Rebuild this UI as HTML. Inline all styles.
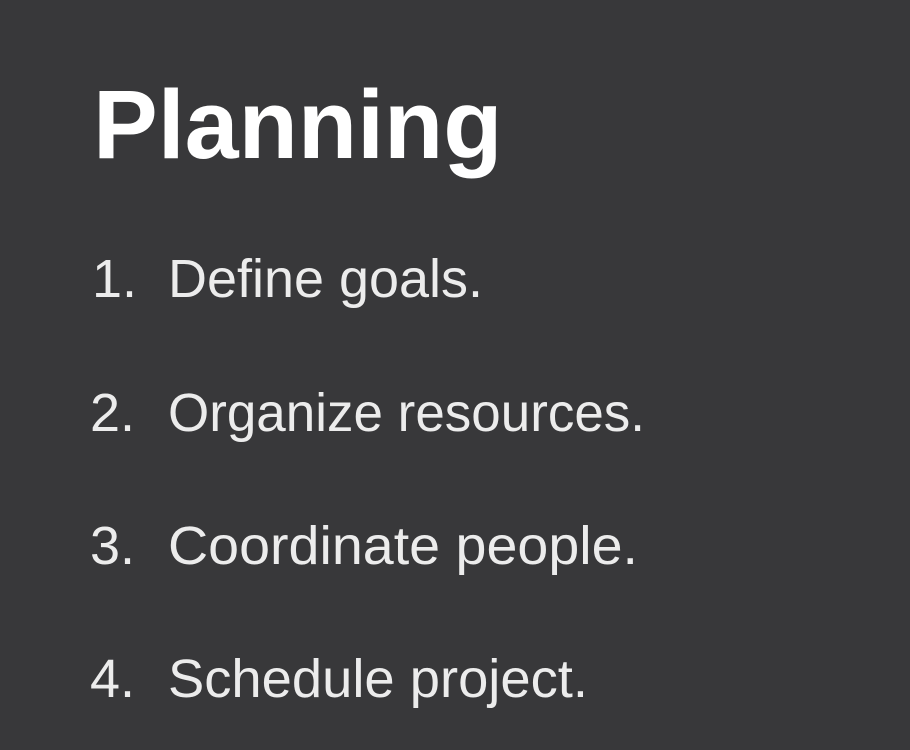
<!DOCTYPE html>
<html>
<head>
<meta charset="utf-8">
<style>
  html,body{margin:0;padding:0;background:#38383a;}
  svg{display:block;}
  text{font-family:"Liberation Sans",sans-serif;}
</style>
</head>
<body>
<svg width="910" height="750" viewBox="0 0 910 750">
  <rect width="910" height="750" fill="#38383a"/>
  <text x="93" y="158" font-size="97" font-weight="bold" fill="#ffffff">Planning</text>
  <g fill="#ececec" font-size="54">
    <text x="92" y="297">1.</text>
    <text x="168" y="297" textLength="315" lengthAdjust="spacingAndGlyphs">Define goals.</text>
    <text x="90" y="431">2.</text>
    <text x="168" y="431" textLength="477" lengthAdjust="spacingAndGlyphs">Organize resources.</text>
    <text x="90" y="564">3.</text>
    <text x="168" y="564" textLength="470" lengthAdjust="spacingAndGlyphs">Coordinate people.</text>
    <text x="90" y="697">4.</text>
    <text x="168" y="697" textLength="420" lengthAdjust="spacingAndGlyphs">Schedule project.</text>
  </g>
</svg>
</body>
</html>
